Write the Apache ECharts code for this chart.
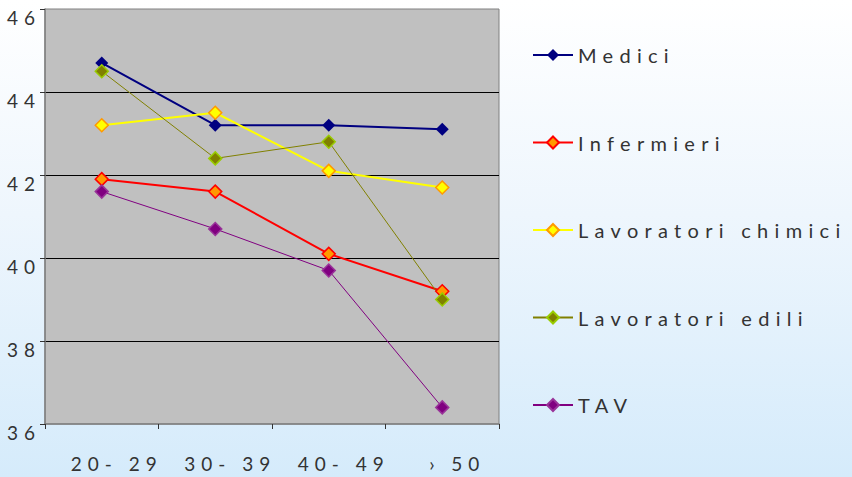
<!DOCTYPE html>
<html>
<head>
<meta charset="utf-8">
<script src="https://cdn.jsdelivr.net/npm/echarts@6/dist/echarts.min.js"></script>
<style>
  html, body { margin: 0; padding: 0; }
  #chart {
    width: 852px; height: 477px;
    background: linear-gradient(to bottom, #ffffff 0%, #eef6fd 45%, #d5ebfb 100%);
  }
  #chart text { letter-spacing: 6px; }
  #chart text[style*="20px"] { letter-spacing: 6.3px; }
</style>
</head>
<body>
<div id="chart"></div>
<script>
// age bands
const categories = ["20- 29", "30- 39", "40- 49", "› 50"];

// values
const medici = [44.7, 43.2, 43.2, 43.1];
const infermieri = [41.9, 41.6, 40.1, 39.2];
const chimici = [43.2, 43.5, 42.1, 41.7];
const edili = [44.5, 42.4, 42.8, 39.0];
const tav = [41.6, 40.7, 39.7, 36.4];

const yTicks = { min: 36, max: 46, interval: 2 };

const chart = echarts.init(document.getElementById("chart"), null, { renderer: "svg" });

function line(name, data, color, width, fill, border) {
  return {
    name,
    type: "line",
    data,
    symbol: "diamond",
    symbolSize: 13,
    lineStyle: { color, width },
    itemStyle: { color: fill, borderColor: border, borderWidth: border ? 1.5 : 0 },
    emphasis: { disabled: true },
  };
}

chart.setOption({
  animation: false,
  textStyle: { fontFamily: "Lato", color: "#333" },
  grid: {
    left: 45, right: 353, top: 9, bottom: 53,
    show: true, backgroundColor: "#c0c0c0", borderColor: "#808080", borderWidth: 1,
  },
  legend: {
    orient: "vertical",
    left: 527, top: 40,
    itemWidth: 40, itemHeight: 15, itemGap: 67.5,
    textStyle: { fontSize: 20, color: "#333", fontFamily: "Lato" },
    data: ["Medici", "Infermieri", "Lavoratori chimici", "Lavoratori edili", "TAV"],
  },
  xAxis: {
    type: "category",
    data: categories,
    boundaryGap: true,
    axisLine: { lineStyle: { color: "#808080", width: 1.5 } },
    axisTick: { show: true, length: 5, lineStyle: { color: "#333" } },
    axisLabel: { fontSize: 19, color: "#333", margin: 30, padding: [0, 0, 0, 30] },
  },
  yAxis: {
    type: "value",
    min: yTicks.min, max: yTicks.max, interval: yTicks.interval,
    axisLine: { show: true, lineStyle: { color: "#808080", width: 1.5 } },
    axisTick: { show: true, length: 5, lineStyle: { color: "#333" } },
    axisLabel: { fontSize: 19, color: "#333", margin: 4, verticalAlign: "top", lineHeight: 17 },
    splitLine: { show: true, showMinLine: false, showMaxLine: false, lineStyle: { color: "#000", width: 1 } },
  },
  series: [
    line("Medici", medici, "#000080", 2, "#000080", null),
    line("Infermieri", infermieri, "#ff0000", 2, "#ff9900", "#ff0000"),
    line("Lavoratori chimici", chimici, "#ffff00", 2, "#ffff00", "#ff9900"),
    line("Lavoratori edili", edili, "#808000", 1, "#808000", "#99cc00"),
    line("TAV", tav, "#800080", 1, "#800080", "#993399"),
  ],
});
</script>
</body>
</html>
